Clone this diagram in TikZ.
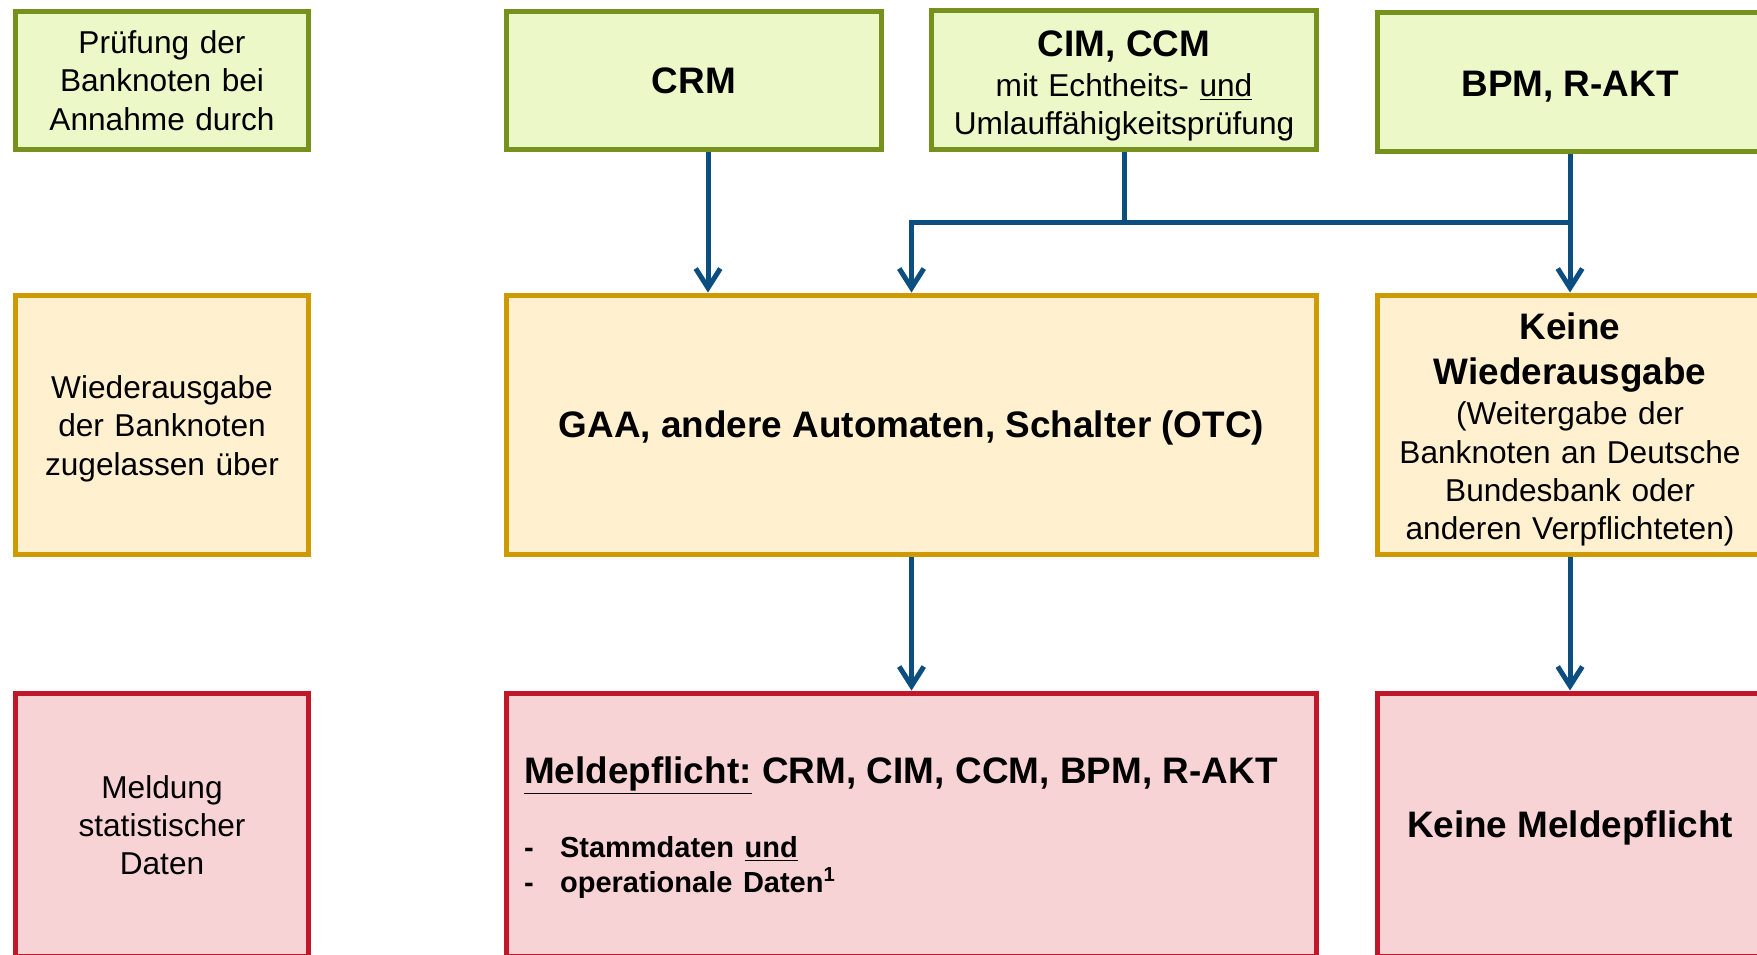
\documentclass[tikz,border=0pt]{standalone}
\usepackage{fontspec}
\setmainfont{Liberation Sans}
\usetikzlibrary{arrows.meta}

\definecolor{gruenrand}{HTML}{76921C}
\definecolor{gruenfill}{HTML}{EDF8C8}
\definecolor{gelbrand}{HTML}{CF9A00}
\definecolor{gelbfill}{HTML}{FFF1D0}
\definecolor{rotrand}{HTML}{C0182A}
\definecolor{rotfill}{HTML}{F8D3D6}
\definecolor{pfeilblau}{HTML}{0C4E80}

\newcommand{\normtext}{\fontsize{18}{21.8}\selectfont}
\newcommand{\fetttext}{\fontsize{21}{25.5}\selectfont\bfseries}

\tikzset{
  kasten/.style={draw, line width=2.85pt, inner sep=0pt, align=center, font=\normtext},
  pruefung/.style={kasten, draw=gruenrand, fill=gruenfill, minimum height=2.78cm},
  ausgabe/.style={kasten, draw=gelbrand, fill=gelbfill, minimum height=5.2cm},
  meldung/.style={kasten, draw=rotrand, fill=rotfill, minimum height=5.28cm},
  pfeil/.style={draw=pfeilblau, line width=2.85pt, -{Straight Barb[length=11pt,width=14pt]}},
  linie/.style={draw=pfeilblau, line width=2.85pt}
}

\begin{document}
\begin{tikzpicture}[x=0.02cm, y=-0.02cm]
            \useasboundingbox (0,0) rectangle (1757,954);
            \clip (0,0) rectangle (1757,954);

            \begin{scope}[every node/.style={pruefung}]
                \node[minimum width=5.88cm, text width=5.4cm] (lpruef) at (162,80.5) {Prüfung der\\Banknoten bei\\Annahme durch};
                \node[minimum width=7.52cm, font=\fetttext] (crm) at (694,80.5) {CRM};
                \node[minimum width=7.72cm, text width=7.4cm] (cim) at (1124,80) {{\fetttext\rule{0pt}{21.1pt}CIM, CCM\par}\vspace{1pt}mit Echtheits- \underline{und}\\Umlauffähigkeitsprüfung};
                \node[minimum width=7.72cm, font=\fetttext, text height=17pt, text depth=0pt] (bpm) at (1570,82) {BPM, R-AKT};
            \end{scope}

            \begin{scope}[every node/.style={ausgabe}]
                \node[minimum width=5.88cm, text width=5.4cm] (lausgabe) at (162,425) {\rule{0pt}{17.3pt}Wiederausgabe\\der Banknoten\\zugelassen über};
                \node[minimum width=16.22cm, font=\fetttext, text height=14.7pt, text depth=0pt] (gaa) at (911.5,425) {GAA, andere Automaten, Schalter (OTC)};
                \node[minimum width=7.72cm, text width=7.4cm] (keine) at (1570,425) {{\fetttext\rule{0pt}{20.5pt}Keine\\Wiederausgabe\par}\vspace{1pt}(Weitergabe der\\Banknoten an Deutsche\\Bundesbank oder\\anderen Verpflichteten)};
            \end{scope}

            \begin{scope}[every node/.style={meldung}]
                \node[minimum width=5.88cm, text width=5.4cm] (lmeld) at (162,825) {Meldung\\statistischer\\Daten};
                \node[minimum width=16.22cm, text width=15.5cm, align=left] (meld) at (911.5,825) {{\fetttext\rule{0pt}{18.2pt}\underline{Meldepflicht:} CRM, CIM, CCM, BPM, R-AKT\par}\vspace{21.8pt}{\fontsize{16.5}{20}\selectfont\bfseries\makebox[20.5pt][l]{-}Stammdaten \underline{und}\\\makebox[20.5pt][l]{-}operationale Daten\textsuperscript{1}\par}};
                \node[minimum width=7.72cm, font=\fetttext, text height=14.4pt, text depth=0pt] (keinemeld) at (1570,825) {Keine Meldepflicht};
            \end{scope}

            \coordinate (balken) at (0,222);
            \path[pfeil] ([xshift=0.28cm]crm.south) -- ([xshift=0.28cm]crm.south |- gaa.north);
            \path[linie] (cim.south) -- (cim.south |- balken);
            \path[pfeil] (keine.north |- balken) -| (gaa.north);
            \path (bpm) edge[pfeil] (keine);
            \path (gaa) edge[pfeil] (meld);
            \path (keine) edge[pfeil] (keinemeld);
\end{tikzpicture}
\end{document}
